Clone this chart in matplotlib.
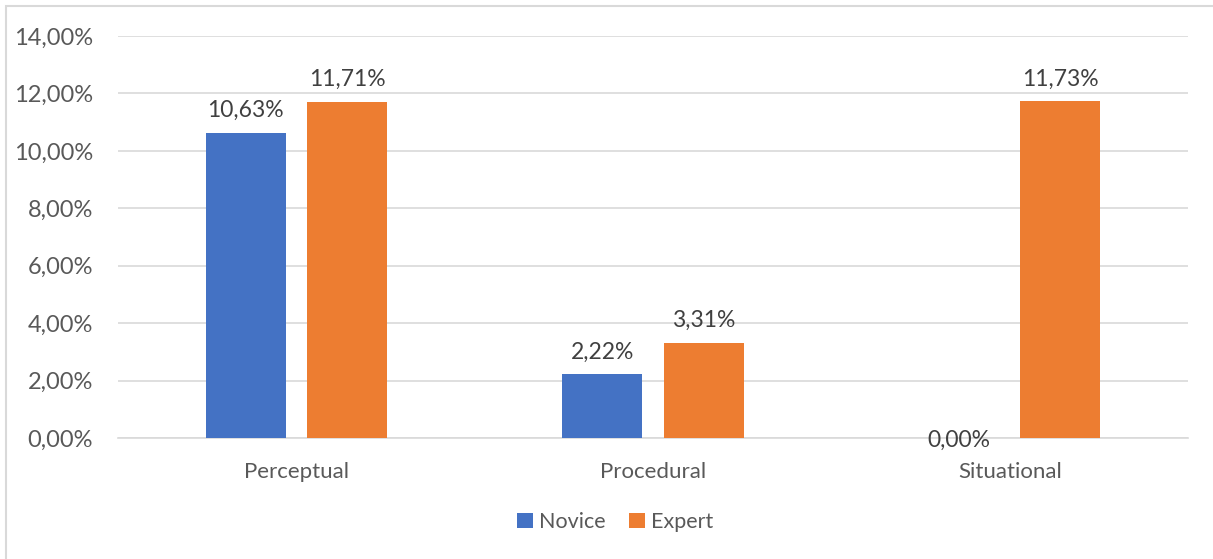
import matplotlib.pyplot as plt
import numpy as np
from matplotlib.patches import Rectangle

categories = ["Perceptual", "Procedural", "Situational"]
novice = [10.63, 2.22, 0.00]
expert = [11.71, 3.31, 11.73]
series_names = ["Novice", "Expert"]
y_ticks = [0, 2, 4, 6, 8, 10, 12, 14]

plt.rcParams['font.family'] = ['Lato', 'DejaVu Sans']

def pct(v):
    return f"{v:.2f}%".replace(".", ",")

fig = plt.figure(figsize=(12.13, 5.59), dpi=100)
ax = fig.add_axes([0.0973, 0.2165, 0.8821, 0.7191])

# рамка области диаграммы (видны только верх и левый край)
fig.patches.append(Rectangle((6 / 1213, -0.1), 1.2, 1 - 6 / 559 + 0.1,
                             transform=fig.transFigure, fill=False,
                             edgecolor="#d9d9d9", linewidth=1.5))

x = np.arange(len(categories))
w = 0.225
off = 0.142
b1 = ax.bar(x - off, novice, w, color="#4472C4", label=series_names[0], zorder=3)
b2 = ax.bar(x + off, expert, w, color="#ED7D31", label=series_names[1], zorder=3)

for bars, vals in [(b1, novice), (b2, expert)]:
    for bar, v in zip(bars, vals):
        cx = bar.get_x() + bar.get_width() / 2
        if v == 0:
            ax.annotate(pct(v), (cx, 0), xytext=(0, -1.5), textcoords="offset points",
                        ha="center", va="center", fontsize=16.5, color="#404040")
        else:
            ax.annotate(pct(v), (cx, v), xytext=(0, 16), textcoords="offset points",
                        ha="center", va="center", fontsize=16.5, color="#404040")

ax.set_xlim(-0.5, 2.5)
ax.set_ylim(0, 14)
ax.set_yticks(y_ticks)
ax.set_yticklabels([pct(t) for t in y_ticks])
ax.set_xticks(x)
ax.set_xticklabels(categories)
ax.tick_params(axis="y", length=0, labelsize=17, labelcolor="#595959", pad=18)
ax.tick_params(axis="x", length=0, labelsize=16, labelcolor="#595959", pad=17)
ax.grid(axis="y", color="#d9d9d9", linewidth=1.2, zorder=0)
for s in ["top", "right", "left"]:
    ax.spines[s].set_visible(False)
ax.spines["bottom"].set_color("#d9d9d9")
ax.spines["bottom"].set_linewidth(1.2)

fig.legend(loc="center", bbox_to_anchor=(615 / 1213, 1 - 522 / 559), ncol=2,
           frameon=False, fontsize=15.5, labelcolor="#595959",
           handlelength=0.75, handleheight=0.75, handletextpad=0.25, columnspacing=1.1)

plt.savefig("out.png", dpi=100)
